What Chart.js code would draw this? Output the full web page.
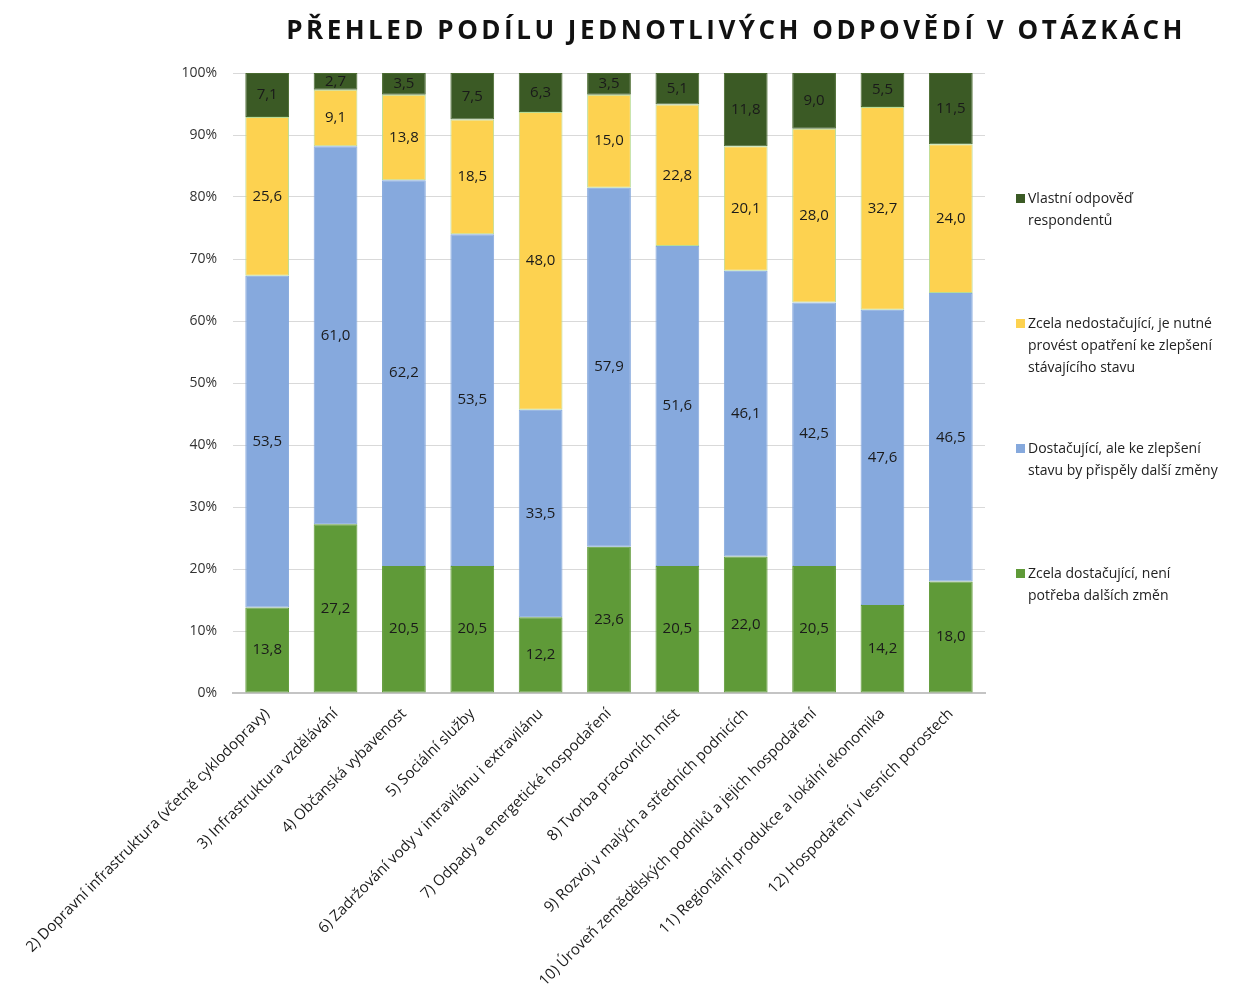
<!DOCTYPE html>
<html lang="cs">
<head>
<meta charset="utf-8">
<title>Přehled podílu jednotlivých odpovědí v otázkách</title>
<script src="https://cdn.jsdelivr.net/npm/chart.js@4.4.1/dist/chart.umd.min.js"></script>
<style>
  html, body { margin: 0; padding: 0; background: #fff; }
  #wrap { position: relative; width: 1243px; height: 1008px; overflow: hidden; font-family: "Open Sans", sans-serif; }
  #chart { position: absolute; left: 0; top: 0; }
  #title {
    position: absolute; left: 236px; width: 1000px; top: 11px;
    text-align: center; font-weight: 700; font-size: 26px; letter-spacing: 3.5px; color: #111;
  }
  .leg { position: absolute; left: 1028px; font-size: 14px; line-height: 22px; color: #222; }
  .leg i { position: absolute; left: -12px; top: 7px; width: 9px; height: 9px; }
</style>
</head>
<body>
<div id="wrap">
  <canvas id="chart" width="1243" height="1008"></canvas>
  <div id="title">PŘEHLED PODÍLU JEDNOTLIVÝCH ODPOVĚDÍ V OTÁZKÁCH</div>
  <div id="legend"></div>
</div>
<script>
const categories = [
  '2) Dopravní infrastruktura (včetně cyklodopravy)',
  '3) Infrastruktura vzdělávání',
  '4) Občanská vybavenost',
  '5) Sociální služby',
  '6) Zadržování vody v intravilánu i extravilánu',
  '7) Odpady a energetické hospodaření',
  '8) Tvorba pracovních míst',
  '9) Rozvoj v malých a středních podnicích',
  '10) Úroveň zemědělských podniků a jejich hospodaření',
  '11) Regionální produkce a lokální ekonomika',
  '12) Hospodaření v lesních porostech'
];

const zcelaDostacujici = [13.8, 27.2, 20.5, 20.5, 12.2, 23.6, 20.5, 22.0, 20.5, 14.2, 18.0];
const dostacujici = [53.5, 61.0, 62.2, 53.5, 33.5, 57.9, 51.6, 46.1, 42.5, 47.6, 46.5];
const nedostacujici = [25.6, 9.1, 13.8, 18.5, 48.0, 15.0, 22.8, 20.1, 28.0, 32.7, 24.0];
const vlastniOdpoved = [7.1, 2.7, 3.5, 7.5, 6.3, 3.5, 5.1, 11.8, 9.0, 5.5, 11.5];

const yTicks = [0, 10, 20, 30, 40, 50, 60, 70, 80, 90, 100];

const series = [
  { label: 'Zcela dostačující, není potřeba dalších změn', data: zcelaDostacujici, color: '#5f9a38', border: '#5f9a38' },
  { label: 'Dostačující, ale ke zlepšení stavu by přispěly další změny', data: dostacujici, color: '#86a9dd', border: '#86a9dd' },
  { label: 'Zcela nedostačující, je nutné provést opatření ke zlepšení stávajícího stavu', data: nedostacujici, color: '#fdd250', border: '#b9dc95' },
  { label: 'Vlastní odpověď respondentů', data: vlastniOdpoved, color: '#3b5a25', border: '#4a6b30' }
];

// legend (HTML, reversed order like the original)
const legendItems = [
  { s: 3, top: 187, lines: ['Vlastní odpověď', 'respondentů'] },
  { s: 2, top: 312, lines: ['Zcela nedostačující, je nutné', 'provést opatření ke zlepšení', 'stávajícího stavu'] },
  { s: 1, top: 437, lines: ['Dostačující, ale ke zlepšení', 'stavu by přispěly další změny'] },
  { s: 0, top: 562, lines: ['Zcela dostačující, není', 'potřeba dalších změn'] }
];
const legendEl = document.getElementById('legend');
legendItems.forEach(item => {
  const d = document.createElement('div');
  d.className = 'leg';
  d.style.top = item.top + 'px';
  d.innerHTML = '<i style="background:' + series[item.s].color + '"></i>' + item.lines.join('<br>');
  legendEl.appendChild(d);
});

const valueLabels = {
  id: 'valueLabels',
  afterDatasetsDraw(chart) {
    const ctx = chart.ctx;
    ctx.save();
    ctx.font = '15px "Open Sans", sans-serif';
    ctx.fillStyle = '#1a1a1a';
    ctx.textAlign = 'center';
    ctx.textBaseline = 'middle';
    chart.data.datasets.forEach((ds, i) => {
      chart.getDatasetMeta(i).data.forEach((bar, j) => {
        const v = ds.data[j];
        const y = (bar.y + bar.base) / 2;
        ctx.fillText(v.toFixed(1).replace('.', ','), bar.x, y);
      });
    });
    ctx.restore();
  }
};

new Chart(document.getElementById('chart'), {
  type: 'bar',
  data: {
    labels: categories,
    datasets: series.map(s => ({
      label: s.label,
      data: s.data,
      backgroundColor: s.color,
      borderColor: s.border,
      borderWidth: 1,
      borderSkipped: false,
      categoryPercentage: 1,
      barPercentage: 0.64
    }))
  },
  options: {
    responsive: false,
    animation: false,
    layout: { padding: { top: 73, right: 258, bottom: 0, left: 0 } },
    plugins: { legend: { display: false }, tooltip: { enabled: false } },
    scales: {
      x: {
        stacked: true,
        grid: { display: false, drawTicks: false },
        border: { color: '#c4c4c4', width: 2 },
        ticks: {
          autoSkip: false, maxRotation: 45, minRotation: 45, padding: 12,
          color: '#1a1a1a', font: { family: '"Open Sans", sans-serif', size: 15 }
        },
        afterFit: s => { s.height = 315; }
      },
      y: {
        stacked: true,
        min: 0, max: 100,
        afterBuildTicks: s => { s.ticks = yTicks.map(v => ({ value: v })); },
        grid: { color: '#d9d9d9', drawTicks: false },
        border: { display: false },
        ticks: {
          padding: 16, color: '#333',
          font: { family: '"Open Sans", sans-serif', size: 14 },
          callback: v => v + '%'
        },
        afterFit: s => { s.width = 233; }
      }
    }
  },
  plugins: [valueLabels]
});
</script>
</body>
</html>
